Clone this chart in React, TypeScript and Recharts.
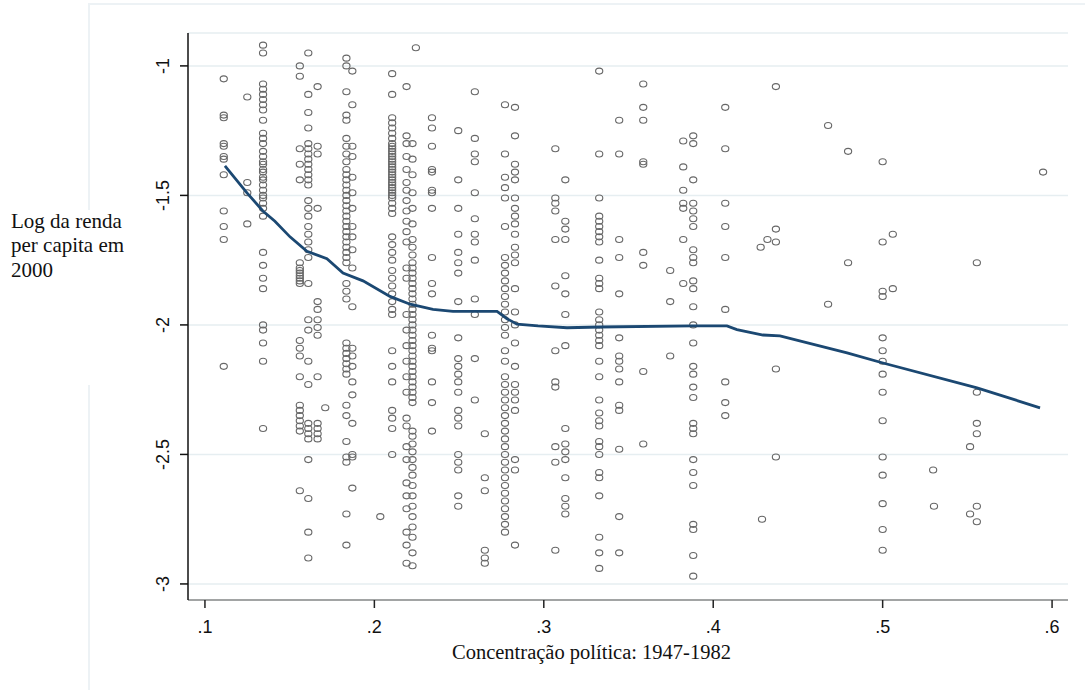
import React from 'react';
import { ScatterChart, Scatter, XAxis, YAxis, CartesianGrid } from 'recharts';

// Column x positions (political concentration) and log income values
const c111 = [-1.05, -1.19, -1.20, -1.30, -1.31, -1.35, -1.36, -1.42, -1.56, -1.62, -1.67, -2.16];
const c125 = [-1.12, -1.45, -1.49, -1.61];
const c134 = [-0.92, -0.95, -1.07, -1.09, -1.11, -1.13, -1.15, -1.17, -1.21, -1.26, -1.28, -1.30, -1.33, -1.35, -1.37, -1.38, -1.40, -1.41, -1.43, -1.44, -1.46, -1.48, -1.50, -1.51, -1.53, -1.55, -1.58, -1.72, -1.77, -1.82, -1.86, -2.00, -2.02, -2.07, -2.14, -2.40];
const c156 = [-1.00, -1.04, -1.32, -1.38, -1.44, -1.76, -1.78, -1.79, -1.80, -1.81, -1.82, -1.83, -1.84, -2.06, -2.09, -2.12, -2.20, -2.31, -2.33, -2.35, -2.37, -2.39, -2.41, -2.64];
const c161 = [-0.95, -1.11, -1.18, -1.24, -1.30, -1.32, -1.34, -1.36, -1.38, -1.40, -1.42, -1.44, -1.46, -1.52, -1.55, -1.58, -1.62, -1.65, -1.68, -1.71, -1.74, -1.84, -1.98, -2.02, -2.14, -2.23, -2.38, -2.40, -2.42, -2.44, -2.52, -2.67, -2.80, -2.90];
const c166 = [-1.08, -1.31, -1.34, -1.55, -1.91, -1.94, -1.98, -2.01, -2.04, -2.20, -2.38, -2.40, -2.42, -2.44];
const c184 = [-0.97, -1.00, -1.10, -1.19, -1.21, -1.28, -1.31, -1.34, -1.37, -1.40, -1.42, -1.44, -1.46, -1.48, -1.50, -1.52, -1.54, -1.56, -1.58, -1.60, -1.62, -1.64, -1.66, -1.68, -1.70, -1.72, -1.74, -1.76, -1.84, -1.87, -1.90, -2.07, -2.09, -2.11, -2.13, -2.15, -2.17, -2.19, -2.31, -2.35, -2.45, -2.51, -2.53, -2.73, -2.85];
const c187 = [-1.02, -1.15, -1.31, -1.35, -1.43, -1.49, -1.55, -1.62, -1.66, -1.71, -1.78, -1.93, -2.09, -2.12, -2.16, -2.22, -2.27, -2.38, -2.50, -2.51, -2.63];
const c210 = [-1.03, -1.11, -1.20, -1.22, -1.24, -1.26, -1.28, -1.30, -1.31, -1.32, -1.33, -1.34, -1.35, -1.36, -1.37, -1.38, -1.39, -1.40, -1.41, -1.42, -1.43, -1.44, -1.45, -1.46, -1.47, -1.48, -1.49, -1.50, -1.51, -1.53, -1.55, -1.57, -1.66, -1.69, -1.72, -1.75, -1.79, -1.82, -1.85, -1.88, -1.91, -1.94, -1.96, -2.10, -2.16, -2.22, -2.33, -2.36, -2.40, -2.50];
const c219 = [-1.08, -1.27, -1.30, -1.35, -1.40, -1.45, -1.48, -1.52, -1.56, -1.60, -1.64, -1.68, -1.78, -1.82, -1.96, -2.02, -2.08, -2.14, -2.20, -2.26, -2.36, -2.39, -2.47, -2.52, -2.61, -2.66, -2.71, -2.80, -2.85, -2.92];
const c222 = [-1.30, -1.36, -1.42, -1.49, -1.55, -1.61, -1.67, -1.70, -1.73, -1.76, -1.78, -1.80, -1.82, -1.84, -1.86, -1.88, -1.90, -1.92, -1.94, -1.96, -1.98, -2.00, -2.02, -2.04, -2.06, -2.08, -2.10, -2.12, -2.14, -2.16, -2.18, -2.20, -2.22, -2.24, -2.26, -2.28, -2.30, -2.41, -2.43, -2.46, -2.49, -2.52, -2.55, -2.58, -2.62, -2.66, -2.70, -2.74, -2.78, -2.82, -2.88, -2.93];
const c234 = [-1.20, -1.24, -1.31, -1.40, -1.41, -1.48, -1.49, -1.55, -1.74, -1.84, -1.88, -2.04, -2.09, -2.10, -2.22, -2.30, -2.41];
const c249 = [-1.25, -1.44, -1.55, -1.65, -1.72, -1.76, -1.80, -1.91, -2.05, -2.13, -2.16, -2.19, -2.22, -2.26, -2.33, -2.36, -2.39, -2.50, -2.53, -2.56, -2.66, -2.70];
const c259 = [-1.10, -1.28, -1.34, -1.37, -1.49, -1.59, -1.65, -1.68, -1.75, -1.90, -1.96, -2.13, -2.29];
const c265 = [-2.42, -2.59, -2.64, -2.87, -2.90, -2.92];
const c277 = [-1.15, -1.34, -1.43, -1.47, -1.51, -1.62, -1.74, -1.77, -1.80, -1.83, -1.86, -1.89, -1.92, -1.95, -1.98, -2.01, -2.04, -2.10, -2.14, -2.20, -2.23, -2.26, -2.29, -2.32, -2.35, -2.38, -2.41, -2.44, -2.47, -2.50, -2.53, -2.56, -2.59, -2.62, -2.65, -2.68, -2.71, -2.74, -2.77, -2.80];
const c283 = [-1.16, -1.27, -1.38, -1.41, -1.44, -1.51, -1.55, -1.58, -1.61, -1.65, -1.70, -1.73, -1.76, -1.86, -1.95, -2.00, -2.07, -2.16, -2.23, -2.26, -2.29, -2.33, -2.52, -2.56, -2.85];
const c307 = [-1.32, -1.51, -1.53, -1.56, -1.67, -1.85, -2.10, -2.22, -2.24, -2.47, -2.53, -2.87];
const c313 = [-1.44, -1.60, -1.63, -1.67, -1.81, -1.88, -1.96, -2.08, -2.40, -2.46, -2.49, -2.52, -2.59, -2.67, -2.70, -2.73];
const c333 = [-1.02, -1.34, -1.51, -1.58, -1.60, -1.62, -1.64, -1.66, -1.68, -1.75, -1.82, -1.84, -1.86, -1.95, -1.98, -2.00, -2.02, -2.04, -2.06, -2.08, -2.14, -2.20, -2.29, -2.34, -2.37, -2.39, -2.45, -2.47, -2.50, -2.57, -2.59, -2.66, -2.82, -2.88, -2.94];
const c344 = [-1.21, -1.34, -1.67, -1.74, -1.88, -2.05, -2.12, -2.14, -2.17, -2.22, -2.31, -2.33, -2.48, -2.74, -2.88];
const c358 = [-1.07, -1.16, -1.21, -1.37, -1.38, -1.72, -1.77, -2.18, -2.46];
const c374 = [-1.79, -1.91, -2.12];
const c382 = [-1.29, -1.39, -1.48, -1.53, -1.55, -1.67, -1.84];
const c388 = [-1.27, -1.30, -1.44, -1.53, -1.56, -1.59, -1.62, -1.71, -1.74, -1.76, -1.83, -1.86, -1.93, -2.00, -2.07, -2.16, -2.19, -2.24, -2.28, -2.38, -2.40, -2.42, -2.52, -2.57, -2.62, -2.77, -2.79, -2.89, -2.97];
const c407 = [-1.16, -1.32, -1.53, -1.62, -1.74, -1.94, -2.22, -2.30, -2.35];
const c500 = [-1.37, -1.68, -1.87, -1.89, -2.05, -2.10, -2.14, -2.19, -2.26, -2.37, -2.51, -2.58, -2.69, -2.79, -2.87];
const c556 = [-1.76, -2.26, -2.38, -2.42, -2.70, -2.76];

const columnX = [0.1111, 0.125, 0.1343, 0.156, 0.161, 0.1665, 0.1835, 0.187, 0.2105, 0.219, 0.2225, 0.234, 0.2495, 0.2593, 0.2652, 0.2771, 0.283, 0.3068, 0.3127, 0.3327, 0.3445, 0.3587, 0.3746, 0.3823, 0.3882, 0.4071, 0.5, 0.5556];
const columnY = [c111, c125, c134, c156, c161, c166, c184, c187, c210, c219, c222, c234, c249, c259, c265, c277, c283, c307, c313, c333, c344, c358, c374, c382, c388, c407, c500, c556];

// isolated observations [x, y]
const singles: [number, number][] = [
  [0.171, -2.32], [0.2035, -2.74], [0.2245, -0.93],
  [0.4288, -2.75], [0.4280, -1.70], [0.4320, -1.67], [0.4370, -1.63], [0.4370, -1.68],
  [0.4370, -1.08], [0.4370, -2.17], [0.4370, -2.51],
  [0.4678, -1.23], [0.4678, -1.92], [0.4796, -1.33], [0.4796, -1.76],
  [0.5060, -1.65], [0.5060, -1.86],
  [0.5298, -2.56], [0.5303, -2.70], [0.5516, -2.47], [0.5516, -2.73], [0.5947, -1.41],
];

// lowess smooth
const lowessX = [0.1118, 0.1248, 0.1342, 0.1413, 0.1502, 0.1602, 0.172, 0.1815, 0.1933, 0.2092, 0.2211, 0.2346, 0.2464, 0.2505, 0.2724, 0.2783, 0.2842, 0.2966, 0.3137, 0.3332, 0.3881, 0.4081, 0.414, 0.4294, 0.4394, 0.479, 0.5002, 0.5557, 0.5929];
const lowessY = [-1.386, -1.49, -1.56, -1.60, -1.66, -1.716, -1.744, -1.80, -1.83, -1.89, -1.92, -1.94, -1.948, -1.948, -1.948, -1.976, -1.997, -2.004, -2.011, -2.008, -2.004, -2.004, -2.018, -2.039, -2.042, -2.108, -2.147, -2.243, -2.32];

const xTicks = [0.1, 0.2, 0.3, 0.4, 0.5, 0.6];
const yTicks = [-3, -2.5, -2, -1.5, -1];

const points = [
  ...columnX.flatMap((x, i) => columnY[i].map((y) => ({ x, y }))),
  ...singles.map(([x, y]) => ({ x, y })),
];
const lowess = lowessX.map((x, i) => ({ x, y: lowessY[i] }));

const tickFont = '"Liberation Sans", Arial, sans-serif';
const serif = '"Liberation Serif", "Times New Roman", serif';

const XTick = (p: any) => (
  <text x={p.x} y={p.y + 23} textAnchor="middle" fontFamily={tickFont} fontSize={18} fill="#111">
    {p.payload.value.toFixed(1).replace(/^0/, '')}
  </text>
);

const YTick = (p: any) => (
  <text transform={`translate(${p.x - 9},${p.y}) rotate(-90)`} textAnchor="middle" fontFamily={tickFont} fontSize={18} fill="#111">
    {String(p.payload.value)}
  </text>
);

const Ring = (p: any) => (
  <ellipse cx={p.cx} cy={p.cy} rx={3.6} ry={3.0} fill="none" stroke="#676767" strokeWidth={1.1} />
);

const Nothing = () => <g />;

export default function App() {
  return (
    <div style={{ position: 'absolute', left: 0, top: 0, width: 1085, height: 690, background: '#fff' }}>
      <div style={{ position: 'absolute', left: 88, top: 3, width: 997, height: 2, background: '#edf2f5' }} />
      <div style={{ position: 'absolute', left: 88, top: 3, width: 2, height: 207, background: '#edf2f5' }} />
      <div style={{ position: 'absolute', left: 88, top: 385, width: 2, height: 305, background: '#edf2f5' }} />
      <ScatterChart width={1085} height={690} margin={{ top: 33, right: 17, bottom: 50, left: 128 }} style={{ position: 'absolute', left: 0, top: 0 }}>
        <CartesianGrid horizontal vertical={false} stroke="#e6eef1" strokeWidth={1.5} />
        <XAxis
          type="number"
          dataKey="x"
          domain={[0.09, 0.6094]}
          ticks={xTicks}
          allowDataOverflow
          height={40}
          stroke="#8a8a8a"
          strokeWidth={1.5}
          tickSize={8}
          tickLine={{ stroke: '#222', strokeWidth: 1.5 }}
          tick={<XTick />}
          label={() => (
            <text x={452} y={659} fontFamily={serif} fontSize={20.5} fill="#111">Concentração política: 1947-1982</text>
          )}
        />
        <YAxis
          type="number"
          dataKey="y"
          domain={[-3.062, -0.873]}
          ticks={yTicks}
          allowDataOverflow
          width={60}
          stroke="#111"
          strokeWidth={1.5}
          tickSize={8}
          tickLine={{ stroke: '#111', strokeWidth: 1.5 }}
          tick={<YTick />}
          label={() => (
            <text x={11} y={228} fontFamily={serif} fontSize={21} fill="#111">
              <tspan x={11} y={228}>Log da renda</tspan>
              <tspan x={11} y={252}>per capita em</tspan>
              <tspan x={11} y={277}>2000</tspan>
            </text>
          )}
        />
        <Scatter data={points} shape={<Ring />} isAnimationActive={false} />
        <Scatter data={lowess} shape={<Nothing />} line={{ stroke: '#1b4872', strokeWidth: 2.8 }} lineType="joint" isAnimationActive={false} />
      </ScatterChart>
    </div>
  );
}
